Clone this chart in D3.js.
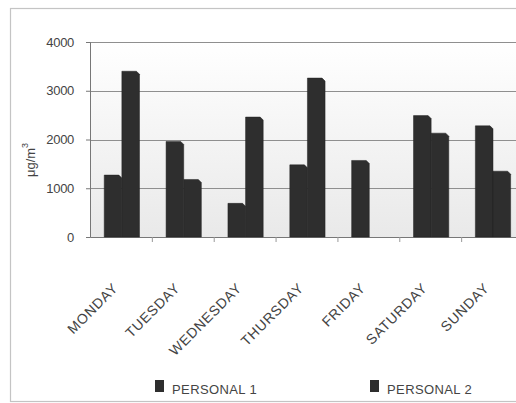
<!DOCTYPE html>
<html><head><meta charset="utf-8">
<script src="https://cdn.jsdelivr.net/npm/d3@7"></script>
<style>body{margin:0;background:#fff}svg{display:block}</style>
</head><body>
<svg id="c" width="516" height="403"></svg>
<script>
const days = ["MONDAY","TUESDAY","WEDNESDAY","THURSDAY","FRIDAY","SATURDAY","SUNDAY"];
const personal1 = [1270, 1960, 690, 1480, 1570, 2490, 2280];
const personal2 = [3400, 1180, 2460, 3260, null, 2130, 1350];
const seriesNames = ["PERSONAL 1", "PERSONAL 2"];
const yTicks = [0, 1000, 2000, 3000, 4000];

const svg = d3.select("#c");
const m = {left: 90, top: 42, bottom: 237, right: 523};
const font = "'Liberation Sans', Arial, sans-serif";

// outer frame
svg.append("rect").attr("x", 10.5).attr("y", 8.5).attr("width", 520).attr("height", 393)
  .attr("fill", "#fff").attr("stroke", "#c4c4c4").attr("stroke-width", 1.2);

const defs = svg.append("defs");
const g = defs.append("linearGradient").attr("id", "bg").attr("x1", 0).attr("y1", 0).attr("x2", 0).attr("y2", 1);
g.append("stop").attr("offset", "0").attr("stop-color", "#ffffff");
g.append("stop").attr("offset", "1").attr("stop-color", "#e9e9e9");

const x = d3.scaleBand().domain(days).range([m.left, m.right]).paddingInner(0).paddingOuter(0);
const y = d3.scaleLinear().domain([0, 4000]).range([m.bottom, m.top]);

svg.append("rect").attr("x", m.left).attr("y", m.top).attr("width", m.right - m.left)
  .attr("height", m.bottom - m.top).attr("fill", "url(#bg)");

// gridlines
svg.append("g").selectAll("line").data(yTicks.slice(1)).join("line")
  .attr("x1", m.left).attr("x2", m.right)
  .attr("y1", d => Math.round(y(d)) + 0.5).attr("y2", d => Math.round(y(d)) + 0.5)
  .attr("stroke", "#8f8f8f").attr("stroke-width", 1);

// y axis
const ya = svg.append("g").attr("transform", `translate(${m.left},0)`)
  .call(d3.axisLeft(y).tickValues(yTicks).tickSize(4).tickPadding(6).tickFormat(d3.format("d")));
ya.select(".domain").attr("stroke", "#777");
ya.selectAll(".tick line").attr("stroke", "#777");
ya.selectAll("text").attr("font-family", font).attr("font-size", 13).attr("fill", "#444")
  .attr("letter-spacing", -0.3).attr("dx", -6);

// x axis
const xa = svg.append("g").attr("transform", `translate(0,${m.bottom})`)
  .call(d3.axisBottom(x).tickSize(0).tickFormat(""));
xa.select(".domain").attr("stroke", "#777");
svg.append("g").selectAll("line").data(days.slice(1)).join("line")
  .attr("x1", d => x(d) + 0.5).attr("x2", d => x(d) + 0.5)
  .attr("y1", m.bottom).attr("y2", m.bottom + 5).attr("stroke", "#999");

// x labels
svg.append("g").selectAll("text").data(days).join("text")
  .attr("transform", d => `translate(${x(d) + x.bandwidth() / 2 - 2},${m.bottom + 52}) rotate(-45)`)
  .attr("text-anchor", "end").attr("font-family", font).attr("font-size", 14)
  .attr("letter-spacing", 0.7).attr("fill", "#444").text(d => d);

// bars with small bevel
const bw = x.bandwidth() * 0.285;
const off = x.bandwidth() * 0.23;
const bev = 3;
function barPath(x0, v) {
  const y0 = y(0), y1 = y(v), x1 = x0 + bw;
  return `M${x0},${y0}L${x0},${y1}L${x1 - bev},${y1}L${x1},${y1 + bev}L${x1},${y0}Z`;
}
const series = [personal1, personal2];
series.forEach((vals, si) => {
  svg.append("g").selectAll("path").data(days.map((d, i) => ({d, v: vals[i]})).filter(o => o.v != null))
    .join("path")
    .attr("d", o => barPath(x(o.d) + off + si * bw, o.v))
    .attr("fill", "#2e2e2e").attr("stroke", "#222").attr("stroke-width", 0.5);
});

// y label
const yl = svg.append("text").attr("transform", "translate(35,160) rotate(-90)")
  .attr("text-anchor", "middle").attr("font-family", font).attr("font-size", 13).attr("fill", "#444");
yl.append("tspan").text("μg/m");
yl.append("tspan").attr("font-size", 9).attr("dy", -7).text("3");

// legend
const lx = [155, 370];
seriesNames.forEach((n, i) => {
  svg.append("rect").attr("x", lx[i]).attr("y", 380).attr("width", 9).attr("height", 12).attr("fill", "#2e2e2e");
  svg.append("text").attr("x", lx[i] + 17).attr("y", 394).attr("font-family", font)
    .attr("font-size", 13).attr("letter-spacing", 0.4).attr("fill", "#444").text(n);
});
</script>
</body></html>
